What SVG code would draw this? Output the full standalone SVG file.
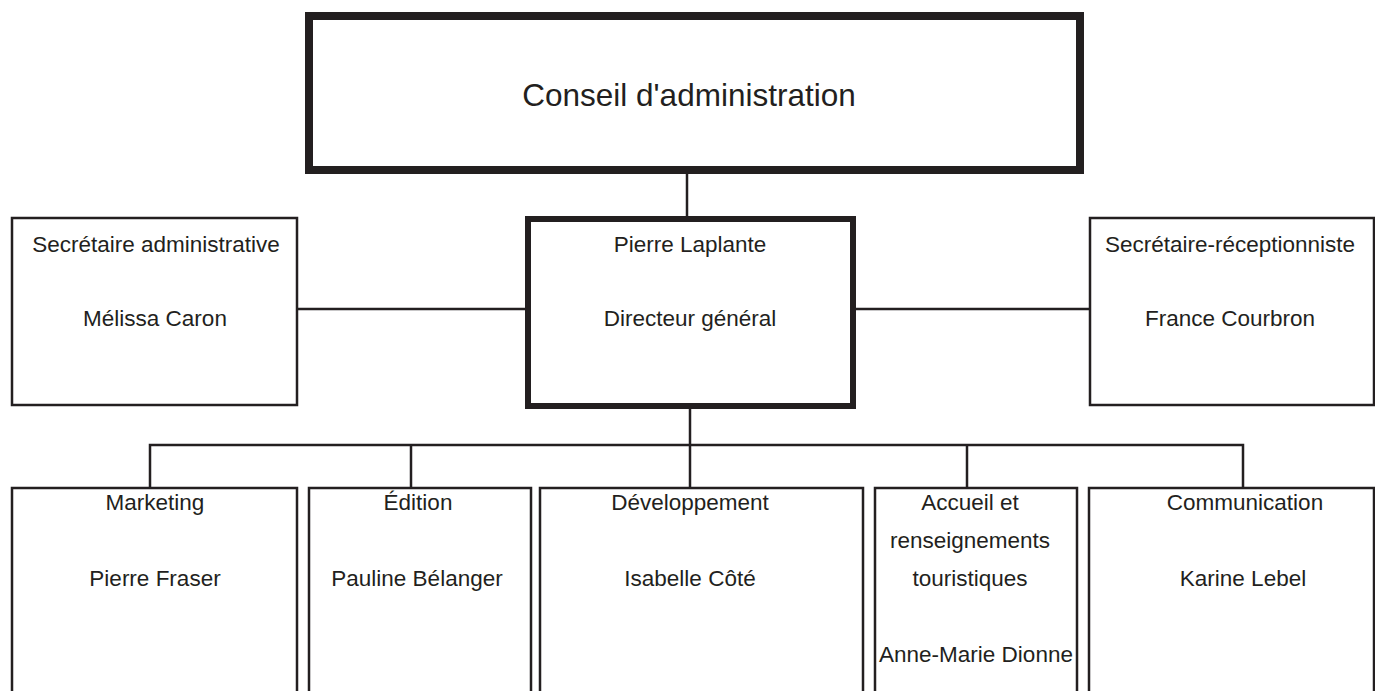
<svg xmlns="http://www.w3.org/2000/svg" width="1375" height="691" viewBox="0 0 1375 691">
<style>
  .box{fill:#fff;stroke:#231f20;stroke-width:2.5}
  .mid{fill:#fff;stroke:#231f20;stroke-width:6}
  .top{fill:#fff;stroke:#231f20;stroke-width:8}
  .ln{stroke:#231f20;stroke-width:2.5;fill:none}
  text{font-family:"Liberation Sans",Arial,sans-serif;font-size:22.5px;fill:#231f20;text-anchor:middle}
  .big{font-size:31.5px}
</style>
<rect width="1375" height="691" fill="#fff"/>
<g id="connectors">
  <line class="ln" x1="687" y1="173" x2="687" y2="217"/>
  <line class="ln" x1="297" y1="309" x2="526" y2="309"/>
  <line class="ln" x1="855" y1="309" x2="1090" y2="309"/>
  <line class="ln" x1="690" y1="408" x2="690" y2="445"/>
  <polyline class="ln" points="150,488 150,445 1243,445 1243,488"/>
  <line class="ln" x1="411" y1="445" x2="411" y2="488"/>
  <line class="ln" x1="690" y1="445" x2="690" y2="488"/>
  <line class="ln" x1="967" y1="445" x2="967" y2="488"/>
</g>
<g id="conseil">
  <rect class="top" x="309" y="16" width="771" height="154"/>
  <text class="big" x="689" y="106">Conseil d'administration</text>
</g>
<g id="directeur">
  <rect class="mid" x="528" y="219" width="325" height="187"/>
  <text x="690" y="252">Pierre Laplante</text>
  <text x="690" y="326">Directeur général</text>
</g>
<g id="secretaire-admin">
  <rect class="box" x="12" y="218" width="285" height="187"/>
  <text x="156" y="252">Secrétaire administrative</text>
  <text x="155" y="326">Mélissa Caron</text>
</g>
<g id="secretaire-recep">
  <rect class="box" x="1090" y="218" width="284" height="187"/>
  <text x="1230" y="252">Secrétaire-réceptionniste</text>
  <text x="1230" y="326">France Courbron</text>
</g>
<g id="marketing">
  <rect class="box" x="12" y="488" width="285" height="220"/>
  <text x="155" y="510">Marketing</text>
  <text x="155" y="586">Pierre Fraser</text>
</g>
<g id="edition">
  <rect class="box" x="309" y="488" width="222" height="220"/>
  <text x="418" y="510">Édition</text>
  <text x="417" y="586">Pauline Bélanger</text>
</g>
<g id="developpement">
  <rect class="box" x="540" y="488" width="323" height="220"/>
  <text x="690" y="510">Développement</text>
  <text x="690" y="586">Isabelle Côté</text>
</g>
<g id="accueil">
  <rect class="box" x="875" y="488" width="202" height="220"/>
  <text x="970" y="510">Accueil et</text>
  <text x="970" y="548">renseignements</text>
  <text x="970" y="586">touristiques</text>
  <text x="976" y="662">Anne-Marie Dionne</text>
</g>
<g id="communication">
  <rect class="box" x="1089" y="488" width="285" height="220"/>
  <text x="1245" y="510">Communication</text>
  <text x="1243" y="586">Karine Lebel</text>
</g>
</svg>
